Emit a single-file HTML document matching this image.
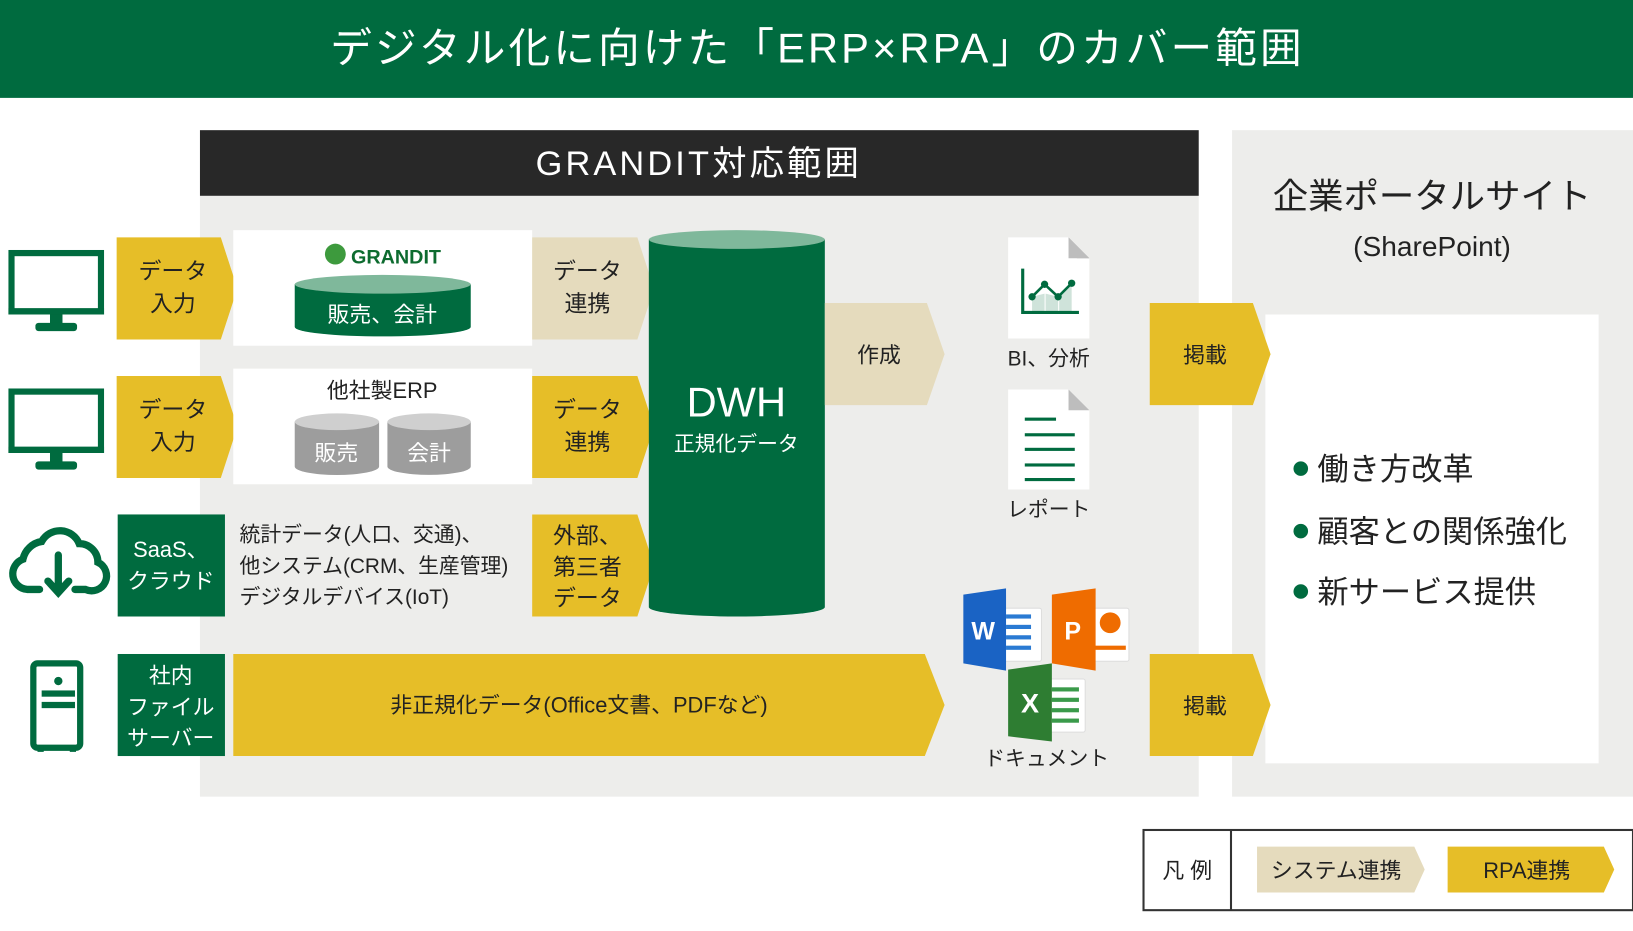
<!DOCTYPE html>
<html><head><meta charset="utf-8"><style>
html,body{margin:0;padding:0;background:#fff;}
svg{display:block;}
text{font-family:"Liberation Sans","Noto Sans CJK JP",sans-serif;}
</style></head><body>
<svg width="1633" height="931" viewBox="0 0 1568 894" preserveAspectRatio="none" xmlns="http://www.w3.org/2000/svg">
<defs>
<symbol id="mon" viewBox="0 0 92 80"><rect x="3" y="3" width="86" height="56" fill="none" stroke="#006b3f" stroke-width="6"/><rect x="0" y="56" width="92" height="6" fill="#006b3f"/><rect x="40" y="62" width="12" height="10" fill="#006b3f"/><rect x="26" y="70" width="40" height="8" rx="3" fill="#006b3f"/></symbol>
</defs>
<rect x="0" y="0" width="1568" height="94" fill="#006b3f"/>
<text x="785" y="60" font-size="40" fill="#fff" text-anchor="middle" letter-spacing="3">デジタル化に向けた「ERP×RPA」のカバー範囲</text>

<rect x="192" y="125" width="959" height="640" fill="#ededeb"/>
<rect x="192" y="125" width="959" height="63" fill="#282828"/>
<text x="671" y="168" font-size="33" fill="#fff" text-anchor="middle" letter-spacing="3">GRANDIT対応範囲</text>

<rect x="1183" y="125" width="385" height="640" fill="#ededeb"/>
<text x="1375" y="200" font-size="34" fill="#222" text-anchor="middle">企業ポータルサイト</text>
<text x="1375" y="246" font-size="27" fill="#222" text-anchor="middle">(SharePoint)</text>
<rect x="1215" y="302" width="320" height="431" fill="#fff"/>
<g font-size="30" fill="#222">
<circle cx="1249" cy="450" r="7" fill="#006b3f"/><text x="1265" y="461">働き方改革</text>
<circle cx="1249" cy="510" r="7" fill="#006b3f"/><text x="1265" y="521">顧客との関係強化</text>
<circle cx="1249" cy="568" r="7" fill="#006b3f"/><text x="1265" y="579">新サービス提供</text>
</g>

<!-- monitors -->
<use href="#mon" x="8" y="240" width="92" height="80"/>
<use href="#mon" x="8" y="373" width="92" height="80"/>
<!-- cloud -->
<g fill="none" stroke="#006b3f" stroke-width="7" stroke-linecap="round">
<path d="M38 566 H26 A15 15 0 0 1 22 537 A22 22 0 0 1 40 520 A20 20 0 0 1 76 522 A18 18 0 0 1 94 540 A14 14 0 0 1 82 566 H72"/>
<path d="M56 533 V568 M46 558 L56 569 L66 558"/>
</g>
<!-- server -->
<rect x="32" y="637" width="45" height="81" rx="4" fill="none" stroke="#006b3f" stroke-width="6"/>
<circle cx="56" cy="654" r="4" fill="#006b3f"/>
<rect x="40" y="663" width="32" height="6" fill="#006b3f"/><rect x="40" y="674" width="32" height="6" fill="#006b3f"/>
<rect x="36" y="716" width="6" height="6" fill="#006b3f"/><rect x="67" y="716" width="6" height="6" fill="#006b3f"/>

<!-- input arrows -->
<g font-size="22" fill="#222" text-anchor="middle">
<polygon points="112,228 212,228 228,277 212,326 112,326" fill="#e6be28"/>
<text x="166" y="268">データ</text><text x="166" y="299">入力</text>
<polygon points="112,361 212,361 228,410 212,459 112,459" fill="#e6be28"/>
<text x="166" y="401">データ</text><text x="166" y="432">入力</text>
</g>
<rect x="113" y="494" width="103" height="98" fill="#006b3f"/>
<text x="164" y="535" font-size="21" fill="#fff" text-anchor="middle">SaaS、</text>
<text x="164" y="565" font-size="21" fill="#fff" text-anchor="middle">クラウド</text>
<rect x="113" y="628" width="103" height="98" fill="#006b3f"/>
<g font-size="21" fill="#fff" text-anchor="middle"><text x="164" y="656">社内</text><text x="164" y="686">ファイル</text><text x="164" y="716">サーバー</text></g>

<!-- white boxes -->
<rect x="224" y="221" width="287" height="111" fill="#fff"/>
<circle cx="322" cy="244" r="10" fill="#3d9a3d"/>
<text x="337" y="253" font-size="19" font-weight="bold" fill="#0d6b2f">GRANDIT</text>
<path d="M283 273 V314 A84 9 0 0 0 452 314 V273" fill="#006b3f"/>
<ellipse cx="367.5" cy="273" rx="84.5" ry="9" fill="#7fb89b"/>
<text x="367" y="309" font-size="21" fill="#fff" text-anchor="middle">販売、会計</text>

<rect x="224" y="354" width="287" height="111" fill="#fff"/>
<text x="367" y="382" font-size="21" fill="#222" text-anchor="middle">他社製ERP</text>
<path d="M283 405 V448 A40 8 0 0 0 364 448 V405" fill="#9d9d9d"/><ellipse cx="323.5" cy="405" rx="40.5" ry="8" fill="#cfcfcf"/>
<path d="M372 405 V448 A40 8 0 0 0 452 448 V405" fill="#9d9d9d"/><ellipse cx="412" cy="405" rx="40" ry="8" fill="#cfcfcf"/>
<text x="323" y="442" font-size="21" fill="#fff" text-anchor="middle">販売</text>
<text x="412" y="442" font-size="21" fill="#fff" text-anchor="middle">会計</text>

<g font-size="20" fill="#222">
<text x="230" y="520">統計データ(人口、交通)、</text>
<text x="230" y="550">他システム(CRM、生産管理)</text>
<text x="230" y="580">デジタルデバイス(IoT)</text>
</g>

<!-- link arrows -->
<g font-size="22" fill="#222" text-anchor="middle">
<polygon points="511,228 612,228 628,277 612,326 511,326" fill="#e5dbbd"/>
<text x="564" y="268">データ</text><text x="564" y="299">連携</text>
<polygon points="511,361 612,361 628,410 612,459 511,459" fill="#e6be28"/>
<text x="564" y="401">データ</text><text x="564" y="432">連携</text>
<polygon points="511,494 612,494 628,543 612,592 511,592" fill="#e6be28"/>
<text x="564" y="522">外部、</text><text x="564" y="552">第三者</text><text x="564" y="582">データ</text>
</g>

<!-- DWH -->
<path d="M623 230 V583 A84.5 9 0 0 0 792 583 V230" fill="#006b3f"/>
<ellipse cx="707.5" cy="230" rx="84.5" ry="9" fill="#7fb89b"/>
<text x="707" y="400" font-size="40" fill="#fff" text-anchor="middle">DWH</text>
<text x="707" y="433" font-size="20" fill="#fff" text-anchor="middle">正規化データ</text>

<polygon points="792,291 890,291 907,340 890,389 792,389" fill="#e5dbbd"/>
<text x="844" y="348" font-size="21" fill="#222" text-anchor="middle">作成</text>

<polygon points="224,628 888,628 907,677 888,726 224,726" fill="#e6be28"/>
<text x="556" y="684" font-size="21" fill="#222" text-anchor="middle">非正規化データ(Office文書、PDFなど)</text>

<!-- BI doc -->
<polygon points="968,228 1026,228 1046,248 1046,325 968,325" fill="#fff"/>
<polygon points="1026,228 1046,248 1026,248" fill="#bdbdbd"/>
<polygon points="1034,248 1046,248 1026,228" fill="#bdbdbd"/>
<path d="M991,285 L1003,282 V300 H991Z M1004,282 L1016,285 V300 H1004Z M1017,285 L1029,272 V300 H1017Z" fill="#cfe3da"/>
<path d="M982,258 V300 H1036" fill="none" stroke="#006b3f" stroke-width="3"/>
<polyline points="991,285 1003,273 1016,285 1029,272" fill="none" stroke="#006b3f" stroke-width="2.5"/>
<g fill="#006b3f"><circle cx="991" cy="285" r="3.5"/><circle cx="1003" cy="273" r="3.5"/><circle cx="1016" cy="285" r="3.5"/><circle cx="1029" cy="272" r="3.5"/></g>
<text x="1007" y="351" font-size="20" fill="#222" text-anchor="middle">BI、分析</text>
<!-- report -->
<polygon points="968,374 1026,374 1046,394 1046,470 968,470" fill="#fff"/>
<polygon points="1026,374 1046,394 1026,394" fill="#bdbdbd"/>
<g fill="#006b3f"><rect x="984" y="401" width="30" height="3"/><rect x="984" y="416" width="48" height="3"/><rect x="984" y="430" width="48" height="3"/><rect x="984" y="445" width="48" height="3"/><rect x="984" y="459" width="48" height="3"/></g>
<text x="1007" y="496" font-size="20" fill="#222" text-anchor="middle">レポート</text>

<!-- office icons -->
<rect x="960" y="584" width="40" height="51" rx="2" fill="#fff" stroke="#ddd"/>
<g fill="#2a7ad3"><rect x="966" y="590" width="24" height="4"/><rect x="966" y="600" width="24" height="4"/><rect x="966" y="610" width="24" height="4"/><rect x="966" y="620" width="24" height="4"/></g>
<polygon points="925,571 966,565 966,644 925,637" fill="#1a63c4"/>
<text x="944" y="614" font-size="24" font-weight="bold" fill="#fff" text-anchor="middle">W</text>
<rect x="1048" y="584" width="36" height="51" rx="2" fill="#fff" stroke="#ddd"/>
<circle cx="1066" cy="598" r="10" fill="#ef6c00"/><rect x="1051" y="620" width="30" height="4" fill="#ef6c00"/>
<polygon points="1010,571 1052,565 1052,644 1010,637" fill="#ef6c00"/>
<text x="1030" y="614" font-size="24" font-weight="bold" fill="#fff" text-anchor="middle">P</text>
<rect x="1004" y="652" width="38" height="51" rx="2" fill="#fff" stroke="#ddd"/>
<g fill="#3a9a4a"><rect x="1010" y="660" width="26" height="4"/><rect x="1010" y="670" width="26" height="4"/><rect x="1010" y="680" width="26" height="4"/><rect x="1010" y="690" width="26" height="4"/></g>
<polygon points="968,643 1010,637 1010,712 968,707" fill="#2e7d32"/>
<text x="989" y="684" font-size="26" font-weight="bold" fill="#fff" text-anchor="middle">X</text>
<text x="1005" y="735" font-size="20" fill="#222" text-anchor="middle">ドキュメント</text>

<!-- 掲載 -->
<polygon points="1104,291 1203,291 1220,340 1203,389 1104,389" fill="#e6be28"/>
<text x="1157" y="348" font-size="21" fill="#222" text-anchor="middle">掲載</text>
<polygon points="1104,628 1203,628 1220,677 1203,726 1104,726" fill="#e6be28"/>
<text x="1157" y="685" font-size="21" fill="#222" text-anchor="middle">掲載</text>

<!-- legend -->
<rect x="1098" y="797" width="470" height="77" fill="#fff" stroke="#333" stroke-width="2"/>
<line x1="1182" y1="797" x2="1182" y2="874" stroke="#333" stroke-width="2"/>
<text x="1140" y="843" font-size="21" fill="#222" text-anchor="middle">凡 例</text>
<polygon points="1207,813 1358,813 1368,835 1358,857 1207,857" fill="#e5dbbd"/>
<text x="1283" y="843" font-size="21" fill="#222" text-anchor="middle">システム連携</text>
<polygon points="1390,813 1540,813 1550,835 1540,857 1390,857" fill="#e6be28"/>
<text x="1466" y="843" font-size="21" fill="#222" text-anchor="middle">RPA連携</text>
</svg>
</body></html>
